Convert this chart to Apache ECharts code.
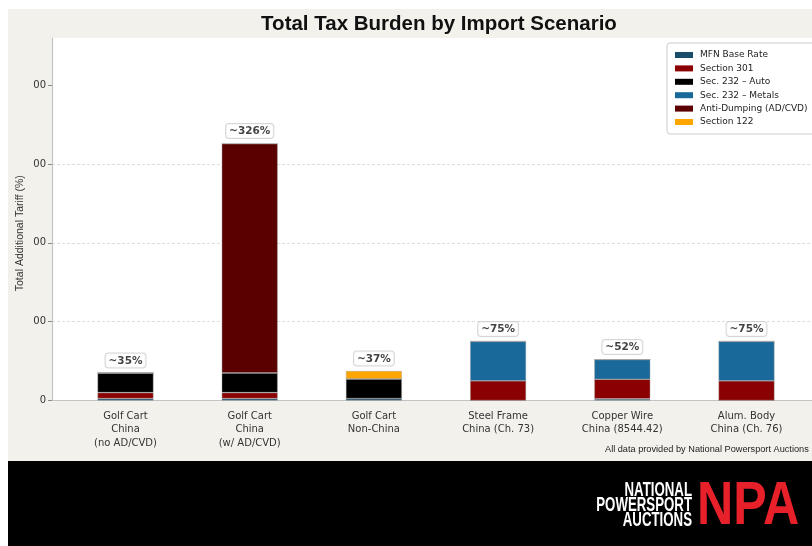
<!DOCTYPE html>
<html>
<head>
<meta charset="utf-8">
<script src="https://cdn.jsdelivr.net/npm/echarts@6/dist/echarts.min.js"></script>
<style>
  html, body { margin: 0; padding: 0; background: #fff; }
  #chart { width: 812px; height: 546px; }
</style>
</head>
<body>
<div id="chart"></div>
<script>
// data
var categories = ['Golf Cart\nChina\n(no AD/CVD)', 'Golf Cart\nChina\n(w/ AD/CVD)', 'Golf Cart\nNon-China',
    'Steel Frame\nChina (Ch. 73)', 'Copper Wire\nChina (8544.42)', 'Alum. Body\nChina (Ch. 76)'];
var mfnBase      = [2.5, 2.5, 2.5, 0, 2, 0];
var section301   = [7.5, 7.5, 0, 25, 25, 25];
var sec232Auto   = [25, 25, 25, 0, 0, 0];
var sec232Metals = [0, 0, 0, 50, 25, 50];
var antiDumping  = [0, 291, 0, 0, 0, 0];
var section122   = [0, 0, 10, 0, 0, 0];
var totalLabels  = ['~35%', '~326%', '~37%', '~75%', '~52%', '~75%'];
var yTicks       = [0, 100, 200, 300, 400];
var yTickLabels  = ['0', '00', '00', '00', '00'];   // left part of the labels is cut off in the source

var layers = [
    {name: 'MFN Base Rate', data: mfnBase, color: '#1b4d6b'},
    {name: 'Section 301', data: section301, color: '#8b0000'},
    {name: 'Sec. 232 \u2013 Auto', data: sec232Auto, color: '#000000'},
    {name: 'Sec. 232 \u2013 Metals', data: sec232Metals, color: '#19699a'},
    {name: 'Anti-Dumping (AD/CVD)', data: antiDumping, color: '#5a0000'},
    {name: 'Section 122', data: section122, color: '#ffa500'}
];

var myChart = echarts.init(document.getElementById('chart'));

// bars live in grid 1 (category axis), grid 0 only carries the frame, y axis and gridlines
var series = layers.map(function (l) {
    return {
        name: l.name,
        type: 'bar',
        stack: 'total',
        xAxisIndex: 1,
        yAxisIndex: 1,
        barWidth: 56,
        itemStyle: {color: l.color, borderColor: 'rgba(160,160,160,0.7)', borderWidth: 0.6},
        data: l.data
    };
});

var totals = categories.map(function (c, i) {
    var s = 0;
    layers.forEach(function (l) { s += l.data[i]; });
    return s;
});

series.push({
    name: 'totals',
    type: 'scatter',
    xAxisIndex: 1,
    yAxisIndex: 1,
    symbolSize: 1,
    silent: true,
    itemStyle: {color: 'transparent'},
    z: 10,
    label: {
        show: true,
        position: 'top',
        distance: 5,
        formatter: function (p) { return totalLabels[p.dataIndex]; },
        backgroundColor: '#fff',
        borderColor: '#cccccc',
        borderWidth: 1,
        borderRadius: 3,
        padding: [2, 3, 1, 3],
        fontSize: 10.5,
        fontWeight: 'bold',
        fontFamily: 'DejaVu Sans',
        color: '#111'
    },
    data: totals
});

option = {
    backgroundColor: '#f2f1ec',
    animation: false,
    title: {
        text: 'Total Tax Burden by Import Scenario',
        left: 434,
        textAlign: 'center',
        top: 9,
        textStyle: {fontSize: 20.5, fontWeight: 'bold', fontFamily: 'Liberation Sans', color: '#111'}
    },
    legend: {
        data: layers.map(function (l) { return l.name; }),
        orient: 'vertical',
        left: 667,
        top: 43,
        padding: [6, 8, 6, 8],
        backgroundColor: '#fff',
        borderColor: '#cccccc',
        borderWidth: 1,
        borderRadius: 3,
        itemWidth: 18,
        itemHeight: 6,
        itemGap: 1.4,
        icon: 'rect',
        itemStyle: {borderWidth: 0},
        textStyle: {fontSize: 9, lineHeight: 12, fontFamily: 'DejaVu Sans', color: '#222', padding: [0, 0, 0, 2]}
    },
    grid: [
        {left: 52, top: 38, width: 769, height: 362.5, show: true, backgroundColor: '#fff', borderWidth: 0},
        {left: 63.4, top: 38, width: 745.2, height: 362.5}
    ],
    xAxis: [
        {
            type: 'value', gridIndex: 0, min: 0, max: 1,
            splitLine: {show: false},
            axisTick: {show: false},
            axisLabel: {show: false},
            axisLine: {lineStyle: {color: '#c4c4c4', width: 1.2}}
        },
        {
            type: 'category', gridIndex: 1,
            data: categories,
            axisLine: {show: false},
            axisTick: {alignWithLabel: true, interval: 0, length: 4, lineStyle: {color: '#888'}},
            axisLabel: {
                interval: 0,
                fontSize: 10,
                lineHeight: 13.5,
                margin: 9,
                color: '#333',
                fontFamily: 'DejaVu Sans'
            }
        }
    ],
    yAxis: [
        {
            type: 'value', gridIndex: 0,
            min: 0,
            max: 460,
            interval: 100,
            name: 'Total Additional Tariff (%)',
            nameLocation: 'middle',
            nameGap: 26,
            nameMoveOverlap: false,
            nameTextStyle: {fontSize: 10.5, fontFamily: 'Liberation Sans', color: '#333', padding: [0, 28, 0, 0]},
            axisLine: {show: true, onZero: false, lineStyle: {color: '#c4c4c4', width: 1.2}},
            axisTick: {show: true, customValues: yTicks, length: 4, lineStyle: {color: '#888'}},
            axisLabel: {
                customValues: yTicks,
                formatter: function (v) { return yTickLabels[yTicks.indexOf(v)]; },
                fontSize: 10,
                margin: 6,
                color: '#333',
                fontFamily: 'DejaVu Sans'
            },
            splitLine: {show: true, showMinLine: false, showMaxLine: false,
                lineStyle: {color: '#d6d6d6', type: [3, 2], width: 0.8}}
        },
        {
            type: 'value', gridIndex: 1, min: 0, max: 460, interval: 100,
            axisLine: {show: false}, axisTick: {show: false}, axisLabel: {show: false}, splitLine: {show: false}
        }
    ],
    graphic: [
        {type: 'rect', shape: {x: 0, y: 0, width: 812, height: 9}, style: {fill: '#fff'}, silent: true},
        {type: 'rect', shape: {x: 0, y: 0, width: 8, height: 546}, style: {fill: '#fff'}, silent: true},
        {type: 'rect', shape: {x: 8, y: 461, width: 804, height: 85}, style: {fill: '#000'}, silent: true},
        {type: 'text', x: 605, y: 449, silent: true,
            style: {text: 'All data provided by National Powersport Auctions', fill: '#222',
                font: '9.2px "Liberation Sans"', align: 'left', verticalAlign: 'middle'}},
        // NPA logo
        {type: 'text', x: 692, y: 490.5, scaleX: 0.68, silent: true,
            style: {text: 'NATIONAL', fill: '#fff', font: 'bold 19.5px "Liberation Sans"', align: 'right', verticalAlign: 'middle'}},
        {type: 'text', x: 692, y: 505.5, scaleX: 0.68, silent: true,
            style: {text: 'POWERSPORT', fill: '#fff', font: 'bold 19.5px "Liberation Sans"', align: 'right', verticalAlign: 'middle'}},
        {type: 'text', x: 692, y: 520.5, scaleX: 0.68, silent: true,
            style: {text: 'AUCTIONS', fill: '#fff', font: 'bold 19.5px "Liberation Sans"', align: 'right', verticalAlign: 'middle'}},
        {type: 'text', x: 697, y: 507, scaleX: 0.81, silent: true,
            style: {text: 'NPA', fill: '#e8202a', font: 'bold 62px "Liberation Sans"', align: 'left', verticalAlign: 'middle'}}
    ],
    series: series
};

myChart.setOption(option);
window.addEventListener('resize', function () {
    myChart.resize();
});
</script>
</body>
</html>
